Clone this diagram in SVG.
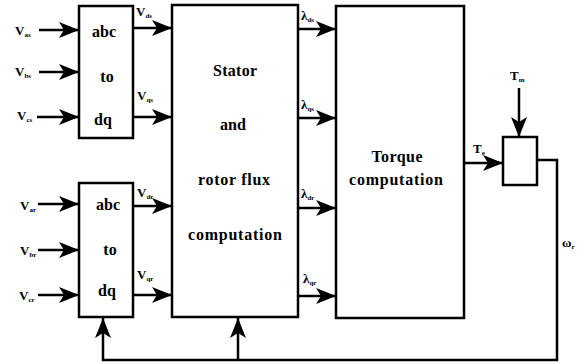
<svg xmlns="http://www.w3.org/2000/svg" width="580" height="364" viewBox="0 0 580 364">
<style>
.box{fill:#fff;stroke:#000;stroke-width:2.5}
.ln{fill:none;stroke:#000;stroke-width:2.5}
.t{font-family:"Liberation Serif","DejaVu Serif",serif;font-weight:bold;font-size:16px;fill:#000;text-anchor:middle}
.l{font-family:"Liberation Serif","DejaVu Serif",serif;font-weight:bold;font-size:13px;fill:#000}
.s{font-size:7px}
</style>
<defs>
<marker id="ah" markerUnits="userSpaceOnUse" viewBox="0 0 20 16" refX="20" refY="8" markerWidth="20" markerHeight="16" orient="auto">
<path d="M0,0 L20,8 L0,16 L5,8 z" fill="#000"/>
</marker>
</defs>
<rect width="580" height="364" fill="#fff"/>
<g id="abc1">
<rect class="box" x="79" y="6" width="54" height="132"/>
<text class="t" x="104" y="37">abc</text>
<text class="t" x="107" y="82">to</text>
<text class="t" x="103" y="125">dq</text>
</g>
<g id="abc2">
<rect class="box" x="79" y="183" width="54" height="134"/>
<text class="t" x="108" y="210">abc</text>
<text class="t" x="110" y="255">to</text>
<text class="t" x="107" y="296">dq</text>
</g>
<g id="flux">
<rect class="box" x="172" y="5" width="126" height="312"/>
<text class="t" x="235" y="76" textLength="44">Stator</text>
<text class="t" x="233" y="130">and</text>
<text class="t" x="234" y="185" textLength="72">rotor flux</text>
<text class="t" x="235" y="240" textLength="94">computation</text>
</g>
<g id="torque">
<rect class="box" x="336" y="6" width="128" height="312"/>
<text class="t" x="397" y="162" textLength="51">Torque</text>
<text class="t" x="396" y="185" textLength="94">computation</text>
</g>
<g id="sum">
<rect class="box" x="503" y="137" width="34" height="48"/>
</g>
<g id="labels">
<text class="l" x="15" y="35">V<tspan class="s" dy="2">as</tspan></text>
<text class="l" x="15" y="76">V<tspan class="s" dy="2">bs</tspan></text>
<text class="l" x="17" y="120">V<tspan class="s" dy="2">cs</tspan></text>
<text class="l" x="20" y="210">V<tspan class="s" dy="2">ar</tspan></text>
<text class="l" x="20" y="255">V<tspan class="s" dy="2">br</tspan></text>
<text class="l" x="19" y="300">V<tspan class="s" dy="2">cr</tspan></text>
<text class="l" x="136" y="16">V<tspan class="s" dy="2">ds</tspan></text>
<text class="l" x="137" y="100">V<tspan class="s" dy="2">qs</tspan></text>
<text class="l" x="137" y="197">V<tspan class="s" dy="2">dr</tspan></text>
<text class="l" x="137" y="279">V<tspan class="s" dy="2">qr</tspan></text>
<text class="l" x="301" y="20">λ<tspan class="s" dy="2">ds</tspan></text>
<text class="l" x="301" y="109">λ<tspan class="s" dy="2">qs</tspan></text>
<text class="l" x="301" y="198">λ<tspan class="s" dy="2">dr</tspan></text>
<text class="l" x="303" y="283">λ<tspan class="s" dy="2">qr</tspan></text>
<text class="l" x="473" y="153">T<tspan class="s" dy="2">e</tspan></text>
<text class="l" x="510" y="80">T<tspan class="s" dy="2">m</tspan></text>
<text class="l" x="562" y="247">ω<tspan class="s" dy="2">r</tspan></text>
</g>
<g id="connectors">
<line class="ln" x1="39" y1="30" x2="79" y2="30" marker-end="url(#ah)"/>
<line class="ln" x1="39" y1="72" x2="79" y2="72" marker-end="url(#ah)"/>
<line class="ln" x1="37" y1="117" x2="79" y2="117" marker-end="url(#ah)"/>
<line class="ln" x1="38" y1="204" x2="79" y2="204" marker-end="url(#ah)"/>
<line class="ln" x1="38" y1="250" x2="79" y2="250" marker-end="url(#ah)"/>
<line class="ln" x1="38" y1="295" x2="79" y2="295" marker-end="url(#ah)"/>
<line class="ln" x1="133" y1="28" x2="172" y2="28" marker-end="url(#ah)"/>
<line class="ln" x1="133" y1="117" x2="172" y2="117" marker-end="url(#ah)"/>
<line class="ln" x1="133" y1="206" x2="172" y2="206" marker-end="url(#ah)"/>
<line class="ln" x1="133" y1="295" x2="172" y2="295" marker-end="url(#ah)"/>
<line class="ln" x1="298" y1="29" x2="336" y2="29" marker-end="url(#ah)"/>
<line class="ln" x1="298" y1="118" x2="336" y2="118" marker-end="url(#ah)"/>
<line class="ln" x1="298" y1="208" x2="336" y2="208" marker-end="url(#ah)"/>
<line class="ln" x1="298" y1="296" x2="336" y2="296" marker-end="url(#ah)"/>
<line class="ln" x1="464" y1="163" x2="503" y2="163" marker-end="url(#ah)"/>
<line class="ln" x1="519" y1="88" x2="519" y2="137" marker-end="url(#ah)"/>
<polyline class="ln" points="537,160 557,160 557,360 103,360 103,318" marker-end="url(#ah)"/>
<line class="ln" x1="238" y1="360" x2="238" y2="318" marker-end="url(#ah)"/>
</g>
</svg>
